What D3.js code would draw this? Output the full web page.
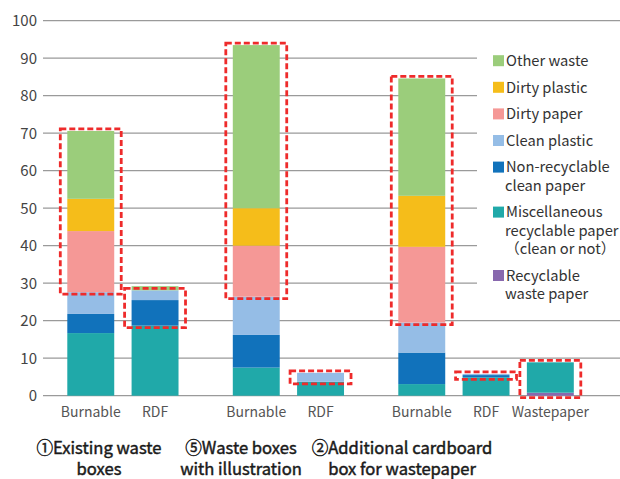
<!DOCTYPE html>
<html>
<head>
<meta charset="utf-8">
<script src="https://cdn.jsdelivr.net/npm/d3@7"></script>
<style>
  body { margin: 0; background: #fff; }
  svg { display: block; font-family: "Noto Sans CJK JP", "Noto Sans", sans-serif; }
  .tick-y { fill: #444; font-size: 15px; }
  .tick-x { fill: #555; font-size: 14px; }
  .legend text { fill: #333; font-size: 14.7px; }
  .group-label { fill: #1a1a1a; stroke: #1a1a1a; stroke-width: 0.45px; font-size: 16.6px; }
</style>
</head>
<body>
<div id="chart"></div>
<script>
// categories
const groupLabels = [
  ['①Existing waste', 'boxes'],
  ['⑤Waste boxes', 'with illustration'],
  ['②Additional cardboard', 'box for wastepaper']
];
const barGroup = [0, 0, 1, 1, 2, 2, 2];
const barSlot  = [0, 1, 0, 1, 0, 1, 2];
const barName  = ['Burnable', 'RDF', 'Burnable', 'RDF', 'Burnable', 'RDF', 'Wastepaper'];

// series, stacked bottom to top
const keys = [
  'Recyclable waste paper',
  'Miscellaneous recyclable paper',
  'Non-recyclable clean paper',
  'Clean plastic',
  'Dirty paper',
  'Dirty plastic',
  'Other waste'
];
const recyclableWaste = [0, 0, 0, 0, 0, 0, 0.8];
const miscRecyclable  = [16.7, 18.7, 7.5, 3.7, 3.1, 4.9, 8.1];
const nonRecyclable   = [5.1, 6.8, 8.7, 0, 8.4, 0.6, 0];
const cleanPlastic    = [5.8, 2.6, 10.2, 2.4, 8.0, 0.3, 0];
const dirtyPaper      = [16.3, 0, 13.6, 0, 20.2, 0, 0];
const dirtyPlastic    = [8.6, 0, 10.0, 0, 13.6, 0, 0];
const otherWaste      = [18.1, 1.1, 43.5, 0, 31.3, 0, 0];

const legendLines = [
  ['Other waste'],
  ['Dirty plastic'],
  ['Dirty paper'],
  ['Clean plastic'],
  ['Non-recyclable', 'clean paper'],
  ['Miscellaneous', 'recyclable paper', '（clean or not）'],
  ['Recyclable', 'waste paper']
];
const legendKeys = keys.slice().reverse();

const yTicks = [0, 10, 20, 30, 40, 50, 60, 70, 80, 90, 100];

// highlighted (dashed) parts: bar index, first and last key
const boxBars = [0, 1, 2, 3, 4, 5, 6];
const boxFrom = ['Dirty paper', 'Non-recyclable clean paper', 'Dirty paper', 'Clean plastic', 'Dirty paper', 'Non-recyclable clean paper', 'Recyclable waste paper'];
const boxTo   = ['Other waste', 'Clean plastic', 'Other waste', 'Clean plastic', 'Other waste', 'Clean plastic', 'Miscellaneous recyclable paper'];

const colors = ['#8868ae', '#20a9a9', '#1172bb', '#95bde6', '#f59896', '#f5bd1a', '#9bcd7b'];

const seriesValues = [recyclableWaste, miscRecyclable, nonRecyclable, cleanPlastic, dirtyPaper, dirtyPlastic, otherWaste];
const rows = barName.map((name, i) => {
  const row = {i};
  keys.forEach((k, j) => { row[k] = seriesValues[j][i]; });
  return row;
});

const width = 620, height = 479;
const svg = d3.select('#chart').append('svg')
  .attr('width', width)
  .attr('height', height);

const y = d3.scaleLinear().domain([0, 100]).range([395.7, 20.7]);
const xGroup = d3.scalePoint().domain([0, 1, 2]).range([67.3, 398.3]);
const xSlot = d3.scaleBand().domain([0, 1, 2]).range([0, 175.5]).paddingInner(0.27);
const color = d3.scaleOrdinal().domain(keys).range(colors);
const xLabel = d3.scaleOrdinal().domain([0, 1, 2]).range([99, 241, 402]);
const barX = i => xGroup(barGroup[i]) + xSlot(barSlot[i]);

// gridlines
const grid = svg.append('g').attr('class', 'grid');
grid.selectAll('line')
  .data(yTicks)
  .join('line')
  .attr('x1', 43)
  .attr('x2', d => (d >= 30 && d <= 90) ? 477 : width)
  .attr('y1', d => y(d))
  .attr('y2', d => y(d))
  .attr('stroke', '#9a9a9a')
  .attr('stroke-width', 1.3);

svg.append('g')
  .selectAll('text')
  .data(yTicks)
  .join('text')
  .attr('class', 'tick-y')
  .attr('x', 37)
  .attr('y', d => y(d))
  .attr('dy', '0.36em')
  .attr('text-anchor', 'end')
  .text(d => d);

// stacked bars
const stacked = d3.stack().keys(keys)(rows);
svg.append('g')
  .selectAll('g')
  .data(stacked)
  .join('g')
  .attr('fill', d => color(d.key))
  .selectAll('rect')
  .data(d => d.filter(s => s[1] - s[0] > 0))
  .join('rect')
  .attr('x', d => barX(d.data.i))
  .attr('width', xSlot.bandwidth())
  .attr('y', d => y(d[1]))
  .attr('height', d => y(d[0]) - y(d[1]));

// dashed highlight boxes
const padX = 7, padY = 2;
svg.append('g')
  .selectAll('rect')
  .data(boxBars.map((b, k) => {
    const lo = stacked[keys.indexOf(boxFrom[k])][b][0];
    const hi = stacked[keys.indexOf(boxTo[k])][b][1];
    return {b, lo, hi};
  }))
  .join('rect')
  .attr('x', d => barX(d.b) - padX)
  .attr('width', xSlot.bandwidth() + padX * 2)
  .attr('y', d => y(d.hi) - padY)
  .attr('height', d => y(d.lo) - y(d.hi) + padY * 2)
  .attr('fill', 'none')
  .attr('stroke', '#ee2b2b')
  .attr('stroke-width', 2.8)
  .attr('stroke-dasharray', '6,3');

// bar category labels
svg.append('g')
  .selectAll('text')
  .data(barName)
  .join('text')
  .attr('class', 'tick-x')
  .attr('x', (d, i) => barX(i) + xSlot.bandwidth() / 2)
  .attr('y', 417)
  .attr('text-anchor', 'middle')
  .text(d => d);

// group labels, two lines each
const labelG = svg.append('g');
groupLabels.forEach((lines, g) => {
  labelG.selectAll(null)
    .data(lines)
    .join('text')
    .attr('class', 'group-label')
    .attr('text-anchor', 'middle')
    .attr('x', xLabel(g))
    .attr('y', (d, i) => 454 + i * 21)
    .text(d => d);
});

// legend
const legend = svg.append('g').attr('class', 'legend');
let ly = 60.7;
legendKeys.forEach((k, j) => {
  const item = legend.append('g').attr('transform', 'translate(493,' + ly + ')');
  item.append('rect')
    .attr('x', 0)
    .attr('y', -5.5)
    .attr('width', 11)
    .attr('height', 11)
    .attr('fill', color(k));
  item.selectAll('text')
    .data(legendLines[j])
    .join('text')
    .attr('x', (d, i) => i === 0 ? 13 : 12)
    .attr('y', (d, i) => i * 18.4)
    .attr('dy', '0.36em')
    .text(d => d);
  ly += legendLines[j].length * 18.4 + 8.2;
});
</script>
</body>
</html>
